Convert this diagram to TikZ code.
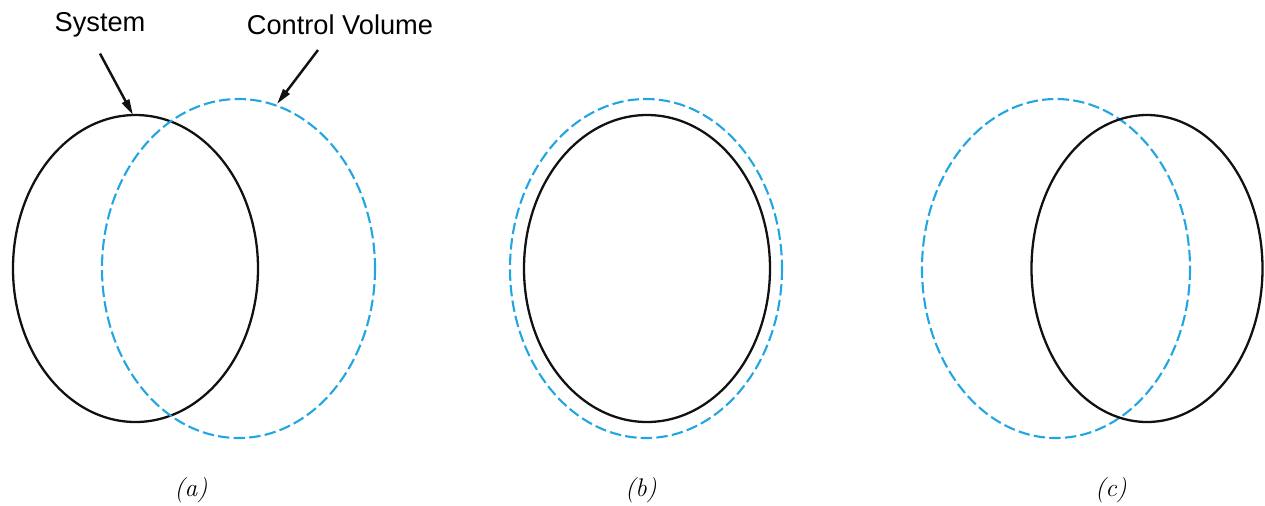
\documentclass[tikz,border=0pt]{standalone}
\usepackage{fontspec}
\setsansfont{Liberation Sans}
\usetikzlibrary{arrows.meta}
\definecolor{cvblue}{HTML}{22A6E2}
\definecolor{sysblack}{HTML}{111111}

\begin{document}
\begin{tikzpicture}[>={Triangle[length=9pt,width=4.5pt]},x=0.02cm,y=-0.02cm]

  \useasboundingbox (0,0) rectangle (1265,505);

  \tikzset{
    sysline/.style={sysblack,line width=1.3pt},
    cvline/.style={cvblue,line width=1.2pt,dash pattern=on 6.5pt off 2.4pt},
    callout/.style={font=\sffamily\fontsize{15.5}{18}\selectfont},
    caption/.style={font=\fontsize{14.5}{17}\selectfont\itshape}
  }

  % --- (a) system leaving the control volume ---
  \draw[sysline] (135.5,268.5) ellipse [x radius=122.5,y radius=153.5];
  \draw[cvline] (238.5,268.5) ellipse [x radius=136.5,y radius=169.5];
  \coordinate (systop) at (133,115);
  \coordinate (cvtop) at (277,104);

  % --- callouts ---
  \node[callout] (syslabel) at (100,25) {System};
  \node[callout] (cvlabel) at (340,25) {Control Volume};
  \draw[sysline,line width=1.4pt,->] (syslabel.south) ++(0,10) coordinate (sysstart) (sysstart) -- (systop);
  \draw[sysline,line width=1.4pt,->] (318,50) coordinate (cvstart) (cvstart) -- (cvtop);

  % --- (b) system and control volume coincide ---
  \draw[cvline] (646,268.5) ellipse [x radius=136,y radius=169.5];
  \draw[sysline] (647,268.5) ellipse [x radius=123,y radius=153.5];

  % --- (c) system entering the control volume ---
  \draw[cvline] (1056,268.5) ellipse [x radius=134,y radius=169.5];
  \draw[sysline] (1147,268.5) ellipse [x radius=115.5,y radius=153.5];

  % --- captions ---
  \node[caption] (capa) at (191,490) {(a)};
  \node[caption] (capb) at (641,490) {(b)};
  \node[caption] (capc) at (1111,490) {(c)};

\end{tikzpicture}
\end{document}
